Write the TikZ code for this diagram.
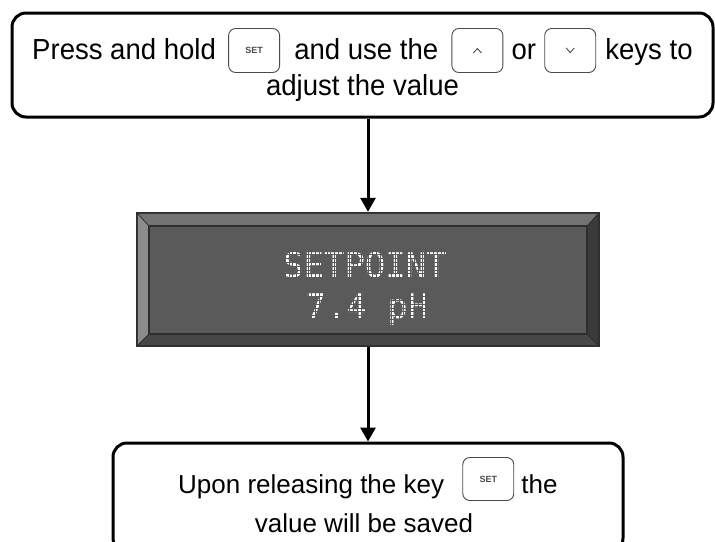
\documentclass[tikz,border=0pt]{standalone}
\usepackage{fontspec}
\setmainfont{Liberation Sans}
\newfontfamily\narrowfont[FakeStretch=0.95]{Liberation Sans}
\newfontfamily\lcdfont{DejaVu Sans Mono}
\usetikzlibrary{arrows.meta, positioning, calc}
\definecolor{lcdface}{HTML}{5A5A5A}
\definecolor{lcdedge}{HTML}{2E2E2E}
\definecolor{bevtop}{HTML}{737373}
\definecolor{bevleft}{HTML}{8C8C8C}
\definecolor{bevright}{HTML}{3A3A3A}
\definecolor{bevbot}{HTML}{474747}
\definecolor{keyink}{HTML}{4A4A4A}

\begin{document}
\begin{tikzpicture}[x=1pt, y=-1pt,
  frame/.style={draw=black, line width=3pt, rounded corners=14pt, inner sep=0pt},
  toptxt/.style={inner sep=0pt, font=\narrowfont\fontsize{29}{34}\selectfont, text height=20pt, text depth=3pt},
  bottxt/.style={inner sep=0pt, font=\fontsize{26}{31}\selectfont, text height=28pt, text depth=0pt},
  keybox/.style={draw=keyink, line width=0.9pt, rounded corners=7pt, minimum width=51pt,
    minimum height=44pt, inner sep=0pt, font=\bfseries\fontsize{9}{9}\selectfont, text=keyink},
  lcdtxt/.style={inner sep=0pt, font=\lcdfont\fontsize{34}{34}\selectfont, text=white},
  flow/.style={line width=3pt, -{Triangle[width=15pt,length=14pt]}}]
  \useasboundingbox (0,0) rectangle (715,541);
  \fill[white] (0,0) rectangle (715,541);
  \clip (0,0) rectangle (715,541);

  % boxes
  \node[frame, minimum width=701pt, minimum height=104pt] (hold) at (362.5,65) {};
  \node[frame, minimum width=510pt, minimum height=109pt] (save) at (368,497.5) {};
  \node[fill=lcdedge, inner sep=0pt, minimum width=464pt, minimum height=135pt] (lcd) at (368,279.5) {};

  % display bevel
  \coordinate (o1) at ($(lcd.north west)+(2,2)$);
  \coordinate (o2) at ($(lcd.north east)+(-2,2)$);
  \coordinate (o3) at ($(lcd.south east)+(-2,-2)$);
  \coordinate (o4) at ($(lcd.south west)+(2,-2)$);
  \coordinate (i1) at ($(lcd.north west)+(13,14)$);
  \coordinate (i2) at ($(lcd.north east)+(-13,14)$);
  \coordinate (i3) at ($(lcd.south east)+(-13,-13)$);
  \coordinate (i4) at ($(lcd.south west)+(13,-13)$);
  \fill[bevtop] (o1) -- (o2) -- (i2) -- (i1) -- cycle;
  \fill[bevright] (o2) -- (o3) -- (i3) -- (i2) -- cycle;
  \fill[bevbot] (o3) -- (o4) -- (i4) -- (i3) -- cycle;
  \fill[bevleft] (o4) -- (o1) -- (i1) -- (i4) -- cycle;
  \draw[lcdedge, line width=0.8pt] (o1) -- (i1) (o2) -- (i2) (o3) -- (i3) (o4) -- (i4);
  \draw[lcdedge, line width=2pt, fill=lcdface] (i1) rectangle (i3);
  \node[lcdtxt, anchor=base] (title) at (365,277) {SETPOINT};
  \node[lcdtxt, anchor=base] (value) at (367,318) {7.4 pH};
  % dot matrix look
  \begin{scope}
    \clip ($(i1)+(2,2)$) rectangle ($(i3)+(-2,-2)$);
    \draw[lcdface, line width=0.55pt, step=3.8pt] ($(title.north west)+(-6,-6)$) grid ($(title.east |- value.south)+(8,8)$);
  \end{scope}

  % first step
  \node[toptxt, anchor=base west] (l1a) at (32,59) {Press and hold};
  \node[keybox, right=12pt of l1a] (kset) {SET};
  \node[toptxt, right=14pt of kset] (l1b) {and use the};
  \node[keybox, right=13pt of l1b] (kup) {};
  \node[toptxt, right=8pt of kup] (l1c) {or};
  \node[keybox, right=8pt of l1c] (kdown) {};
  \node[toptxt, right=9pt of kdown] (l1d) {keys to};
  \node[toptxt, anchor=base] (l2) at (362.5,95) {adjust the value};
  \draw[keyink, line width=0.9pt] ($(kup.center)+(-4,2.5)$) -- ($(kup.center)+(0,-2)$) -- ($(kup.center)+(4,2.5)$);
  \draw[keyink, line width=0.9pt] ($(kdown.center)+(-4,-2.5)$) -- ($(kdown.center)+(0,2)$) -- ($(kdown.center)+(4,-2.5)$);

  % last step
  \node[bottxt, anchor=base west] (u1a) at (178,493) {Upon releasing the key};
  \node[keybox, minimum height=43pt, right=18pt of u1a] (kset2) {SET};
  \node[bottxt, right=7pt of kset2] (u1b) {the};
  \node[bottxt, anchor=base] (u2) at (364,532) {value will be saved};

  \draw[flow] (hold.south -| lcd.north) -- (lcd.north);
  \draw[flow] (lcd.south) -- (save.north);
\end{tikzpicture}
\end{document}
